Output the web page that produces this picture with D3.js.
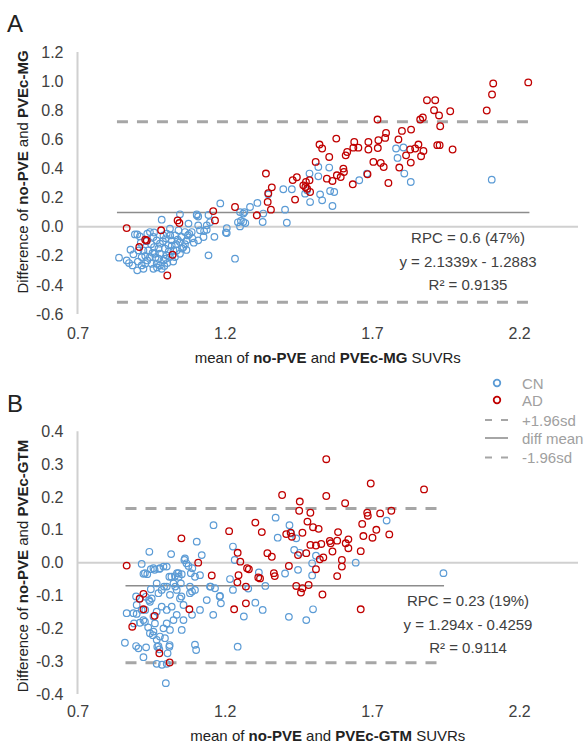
<!DOCTYPE html>
<html>
<head>
<meta charset="utf-8">
<script src="https://cdnjs.cloudflare.com/ajax/libs/d3/7.8.5/d3.min.js"></script>
<style>
  body { margin: 0; background: #fff; }
  svg { font-family: "Liberation Sans", Arial, sans-serif; }
</style>
</head>
<body>
<svg id="chart" width="584" height="746"></svg>
<script>
// ---- data ----
var xTicks = [0.7, 1.2, 1.7, 2.2];
var yTicksA = [-0.6, -0.4, -0.2, 0.0, 0.2, 0.4, 0.6, 0.8, 1.0, 1.2];
var yTicksB = [-0.4, -0.3, -0.2, -0.1, 0.0, 0.1, 0.2, 0.3, 0.4];

// Panel A: no-PVE vs PVEc-MG  [mean, difference]
var cnA = [
  [0.841,-0.213],[0.867,-0.232],[0.88,-0.158],[0.887,-0.266],[0.903,-0.30],[0.895,-0.053],[0.903,-0.053],
  [0.912,-0.067],[0.907,-0.163],[0.918,-0.209],[0.924,-0.163],[0.937,-0.048],[0.946,-0.037],[0.958,-0.071],
  [0.96,-0.14],[0.969,-0.094],[0.98,-0.117],[0.986,0.048],[0.992,-0.06],[1.003,-0.048],[1.014,-0.014],
  [1.02,-0.094],[1.026,-0.163],[1.031,-0.06],[1.031,-0.209],[1.043,-0.025],[1.048,-0.106],[1.054,-0.071],
  [1.06,-0.14],[1.065,-0.037],[1.071,-0.094],[1.048,0.085],[1.077,0.021],[1.088,-0.037],[1.105,0.078],
  [1.11,0.009],[1.11,-0.094],[1.116,-0.025],[1.128,-0.071],[1.139,-0.021],[1.139,0.009],[1.145,-0.197],
  [0.94,-0.163],[0.946,-0.209],[0.952,-0.255],[0.958,-0.289],[0.969,-0.255],[0.975,-0.22],[0.98,-0.186],
  [0.992,-0.232],[1.003,-0.197],[0.93,-0.255],[0.937,-0.232],[0.918,-0.266],[0.924,-0.289],[0.963,-0.186],
  [0.997,-0.151],[1.009,-0.128],[1.014,-0.209],[1.037,-0.163],[1.048,-0.186],[0.98,-0.266],[0.986,-0.289],
  [0.95,-0.12],[0.935,-0.1],[0.955,-0.18],[0.975,-0.15],[0.99,-0.1],[1.0,-0.22],[1.01,-0.17],[1.02,-0.13],
  [1.035,-0.12],[1.04,-0.09],[1.055,-0.15],[1.065,-0.12],[1.07,-0.16],[1.075,-0.06],[0.965,-0.21],
  [0.97,-0.28],[0.93,-0.2],[0.915,-0.11],[0.905,-0.24],[0.89,-0.19],[0.875,-0.25],[0.995,-0.27],
  [1.005,-0.25],[1.025,-0.24],[0.96,-0.04],[1.0,-0.08],[1.015,-0.06],[1.095,-0.11],[1.09,-0.08],[1.08,-0.05],
  [1.105,0.085],[1.11,0.07],[1.145,0.08],[1.15,0.03],[1.165,-0.07],[1.204,-0.04],[1.207,-0.01],[1.185,0.16],
  [1.235,-0.22],[1.245,0.03],[1.255,0.04],[1.263,0.09],[1.13,-0.03],[1.207,-0.044],[1.252,0.002],[1.252,0.1],
  [1.267,0.1],[1.263,0.032],[1.27,0.025],[1.286,0.135],[1.311,0.163],[1.331,0.09],[1.329,0.032],[1.348,0.222],
  [1.399,0.257],[1.405,0.117],[1.411,0.027],[1.428,0.257],[1.473,0.227],[1.48,0.25],[1.488,0.365],[1.49,0.169],
  [1.518,0.41],[1.518,0.346],[1.524,0.222],[1.531,0.181],[1.555,0.406],[1.558,0.245],[1.572,0.238],
  [1.566,0.142],[1.657,0.319],[1.683,0.365],[1.782,0.537],[1.807,0.544],[1.787,0.472],[1.81,0.365],
  [1.832,0.307],[2.107,0.323]
];
var adA = [
  [0.867,-0.01],[0.91,-0.14],[0.93,-0.09],[0.935,-0.095],[0.984,-0.025],[1.005,-0.335],[1.023,-0.193],
  [1.04,0.043],[1.046,0.025],[1.161,0.107],[1.167,0.043],[1.235,0.135],[1.309,0.078],[1.34,0.365],
  [1.348,0.23],[1.346,0.17],[1.36,0.27],[1.357,0.117],[1.431,0.32],[1.445,0.34],[1.439,0.186],
  [1.467,0.284],[1.476,0.307],[1.474,0.273],[1.48,0.26],[1.488,0.319],[1.49,0.238],[1.509,0.445],
  [1.522,0.564],[1.531,0.537],[1.555,0.479],[1.547,0.33],[1.566,0.314],[1.579,0.605],[1.581,0.353],
  [1.594,0.341],[1.603,0.399],[1.605,0.376],[1.611,0.49],[1.616,0.513],[1.635,0.291],[1.64,0.582],
  [1.637,0.543],[1.654,0.543],[1.688,0.582],[1.688,0.53],[1.685,0.36],[1.705,0.445],[1.719,0.736],
  [1.722,0.594],[1.748,0.644],[1.745,0.61],[1.72,0.54],[1.73,0.438],[1.74,0.41],[1.756,0.3],[1.79,0.599],
  [1.802,0.658],[1.833,0.667],[1.793,0.406],[1.816,0.49],[1.83,0.53],[1.832,0.44],[1.847,0.537],
  [1.858,0.564],[1.867,0.484],[1.875,0.52],[1.864,0.736],[1.873,0.75],[1.887,0.869],[1.915,0.869],
  [1.911,0.8],[1.928,0.764],[1.932,0.69],[1.922,0.56],[1.93,0.56],[1.966,0.793],[1.974,0.53],
  [2.09,0.798],[2.108,0.908],[2.112,0.984],[2.231,0.991]
];

// Panel B: no-PVE vs PVEc-GTM
var cnB = [
  [0.944,0.033],[1.018,0.026],[1.105,0.064],[1.122,0.023],[0.918,-0.004],[0.929,-0.032],[0.937,-0.035],
  [0.958,-0.017],[0.98,-0.017],[0.992,-0.012],[1.003,-0.012],[1.012,-0.043],[1.026,-0.063],[1.031,-0.041],
  [1.043,-0.032],[1.054,-0.035],[1.065,0.013],[1.077,-0.01],[1.085,-0.032],[1.09,-0.017],[1.099,-0.043],
  [1.116,-0.038],[1.15,-0.073],[1.167,-0.078],[1.184,-0.101],[1.187,-0.124],[1.161,-0.159],[1.139,-0.114],
  [1.116,-0.144],[1.099,-0.083],[1.082,-0.093],[1.06,-0.129],[1.048,-0.109],[1.037,-0.083],[1.014,-0.098],
  [1.003,-0.073],[0.986,-0.083],[0.975,-0.093],[0.969,-0.063],[0.952,-0.109],[0.946,-0.119],[0.932,-0.104],
  [0.912,-0.109],[0.901,-0.129],[0.89,-0.154],[0.867,-0.154],[0.861,-0.244],[0.899,-0.254],[0.907,-0.261],
  [0.924,-0.288],[0.933,-0.258],[0.912,-0.183],[0.929,-0.18],[0.94,-0.197],[0.946,-0.215],[0.958,-0.21],
  [0.969,-0.235],[0.98,-0.225],[0.992,-0.2],[1.003,-0.185],[1.014,-0.205],[1.026,-0.175],[1.037,-0.159],
  [1.02,-0.134],[1.003,-0.144],[0.986,-0.134],[0.969,-0.149],[0.958,-0.164],[0.997,-0.23],[0.971,-0.256],
  [0.978,-0.264],[0.969,-0.308],[1.012,-0.256],[1.003,-0.308],[1.0,-0.367],[1.099,-0.25],[1.103,-0.266],
  [1.06,-0.175],[1.054,-0.205],[0.901,-0.156],[0.924,-0.175],[0.918,-0.144],[0.963,-0.185],
  [0.892,-0.185],[0.899,-0.103],[0.924,-0.034],[0.93,-0.144],[0.943,-0.114],[0.949,-0.02],[0.949,-0.081],
  [0.956,-0.221],[0.962,-0.022],[0.975,-0.254],[0.978,-0.019],[0.987,-0.311],[0.994,-0.073],[1.006,-0.276],
  [1.013,-0.251],[1.019,-0.043],[1.032,-0.073],[1.038,-0.032],[1.044,-0.043],[1.051,-0.063],[1.053,-0.103],
  [1.063,0.008],[1.07,-0.002],[1.082,-0.073],[1.089,-0.088],[1.089,-0.159],
  [1.152,-0.073],[1.162,0.114],[1.183,-0.103],[1.218,-0.05],[1.228,0.049],[1.228,-0.083],[1.234,0.008],
  [1.244,-0.256],[1.265,-0.164],[1.28,-0.079],[1.304,-0.122],[1.316,-0.03],[1.329,-0.144],[1.338,-0.071],
  [1.373,0.137],[1.38,0.076],[1.405,-0.033],[1.418,-0.165],[1.42,0.114],[1.426,0.089],[1.436,0.039],
  [1.443,0.074],[1.449,-0.022],[1.455,0.03],[1.477,-0.175],[1.497,-0.002],[1.5,-0.142],[1.497,-0.039],
  [1.51,0.021],[1.645,0.0],[1.75,0.128],[1.943,-0.032]
];
var adB = [
  [0.867,-0.009],[0.886,-0.195],[0.911,-0.11],[0.924,-0.095],[0.924,-0.142],[0.962,-0.162],[0.978,-0.276],
  [1.013,-0.304],[1.053,0.074],[1.08,-0.142],[1.11,0.0],[1.156,-0.039],[1.215,0.096],[1.232,-0.142],
  [1.244,0.03],[1.243,-0.06],[1.247,-0.038],[1.253,0.003],[1.272,-0.073],[1.272,-0.124],[1.276,-0.017],
  [1.282,-0.02],[1.304,0.122],[1.314,-0.045],[1.32,-0.048],[1.326,0.093],[1.345,0.029],[1.36,0.018],
  [1.367,-0.032],[1.37,-0.041],[1.395,0.206],[1.409,0.087],[1.418,-0.01],[1.424,0.091],[1.428,0.079],
  [1.443,-0.071],[1.449,0.023],[1.453,0.158],[1.455,0.186],[1.459,-0.091],[1.464,-0.078],[1.464,0.091],
  [1.477,0.029],[1.481,0.125],[1.485,-0.068],[1.491,0.152],[1.491,0.054],[1.5,0.108],[1.51,0.052],
  [1.51,-0.02],[1.519,0.103],[1.523,0.01],[1.528,0.057],[1.532,-0.097],[1.535,0.016],[1.545,0.315],
  [1.545,0.203],[1.557,0.066],[1.56,0.059],[1.566,0.034],[1.582,-0.041],[1.585,0.093],[1.582,0.067],
  [1.598,0.008],[1.598,-0.012],[1.609,0.181],[1.611,0.059],[1.62,0.071],[1.62,0.044],[1.662,0.035],
  [1.662,-0.142],[1.667,0.118],[1.671,0.081],[1.684,0.152],[1.686,0.143],[1.696,0.241],[1.702,0.076],
  [1.715,0.1],[1.728,0.15],[1.759,0.086],[1.766,0.158],[1.877,0.223]
];

// limits of agreement: mean difference and +/-1.96sd, with the x span they are drawn over
var limitsA = { upper: 0.72, mean: 0.098, lower: -0.52 };
var limitsB = { upper: 0.165, mean: -0.07, lower: -0.305 };
var spanA = [0.834, 2.235];
var spanB = [0.863, 1.945];

var statsA = ["RPC = 0.6 (47%)", "y = 2.1339x - 1.2883", "R\u00b2 = 0.9135"];
var statsB = ["RPC = 0.23 (19%)", "y = 1.294x - 0.4259", "R\u00b2 = 0.9114"];

var legendItems = [
  { label: "CN", type: "dot", color: "#5b9bd5" },
  { label: "AD", type: "dot", color: "#c00000" },
  { label: "+1.96sd", type: "dash" },
  { label: "diff mean", type: "solid" },
  { label: "-1.96sd", type: "dash" }
];

var blue = "#5b9bd5", red = "#c00000";
var svg = d3.select("#chart");

var x = d3.scaleLinear().domain([0.7, 2.4]).range([77.5, 578]);

function panel(opt) {
  var y = d3.scaleLinear().domain(opt.yDomain).range(opt.yRange);
  var g = svg.append("g");

  // y axis line
  g.append("line")
    .attr("x1", x(0.7)).attr("x2", x(0.7))
    .attr("y1", opt.yRange[0]).attr("y2", opt.yRange[1])
    .attr("stroke", "#d0d0d0").attr("stroke-width", 2);

  // zero line
  g.append("line")
    .attr("x1", x(0.7)).attr("x2", x(2.4))
    .attr("y1", y(0)).attr("y2", y(0))
    .attr("stroke", "#d0d0d0").attr("stroke-width", 2);

  // limits of agreement
  [["upper", true], ["lower", true], ["mean", false]].forEach(function(l) {
    g.append("line")
      .attr("x1", x(opt.span[0])).attr("x2", x(opt.span[1]))
      .attr("y1", y(opt.limits[l[0]])).attr("y2", y(opt.limits[l[0]]))
      .attr("stroke", l[1] ? "#a6a6a6" : "#8c8c8c")
      .attr("stroke-width", l[1] ? 3 : 1.5)
      .attr("stroke-dasharray", l[1] ? "11,9" : null);
  });

  // axes (labels only)
  var ax = g.append("g")
    .attr("transform", "translate(0," + opt.yRange[0] + ")")
    .call(d3.axisBottom(x).tickValues(xTicks).tickSize(0).tickPadding(opt.xPad).tickFormat(d3.format(".1f")));
  var ay = g.append("g")
    .attr("transform", "translate(" + x(0.7) + ",0)")
    .call(d3.axisLeft(y).tickValues(opt.yTicks).tickSize(0).tickPadding(14).tickFormat(d3.format(".1f")));
  [ax, ay].forEach(function(a) {
    a.select(".domain").remove();
    a.selectAll("text").attr("font-size", 16).attr("fill", "#404040")
      .attr("font-family", "Liberation Sans, Arial, sans-serif");
  });
  ay.selectAll("text").text(function(d) { return d3.format(".1f")(d).replace("\u2212", "-"); });

  // points
  g.selectAll(".cn").data(opt.cn).enter().append("circle")
    .attr("cx", function(d) { return x(d[0]); })
    .attr("cy", function(d) { return y(d[1]); })
    .attr("r", 3.3).attr("fill", "none").attr("stroke", blue).attr("stroke-width", 1.2);
  g.selectAll(".ad").data(opt.ad).enter().append("circle")
    .attr("cx", function(d) { return x(d[0]); })
    .attr("cy", function(d) { return y(d[1]); })
    .attr("r", 3.3).attr("fill", "none").attr("stroke", red).attr("stroke-width", 1.3);

  // stats text
  g.selectAll(".stat").data(opt.stats).enter().append("text")
    .attr("x", 468).attr("y", function(d, i) { return opt.statY + i * 23.5; })
    .attr("text-anchor", "middle").attr("font-size", 15).attr("fill", "#404040")
    .text(function(d) { return d; });

  // panel letter
  g.append("text").attr("x", 7).attr("y", opt.letterY)
    .attr("font-size", 24).attr("fill", "#222").text(opt.letter);

  // y title
  var yt = g.append("text")
    .attr("transform", "translate(28," + opt.yTitleY + ") rotate(-90)")
    .attr("text-anchor", "middle").attr("font-size", 15).attr("fill", "#222");
  yt.append("tspan").text("Difference of ");
  yt.append("tspan").attr("font-weight", "bold").text("no-PVE");
  yt.append("tspan").text(" and ");
  yt.append("tspan").attr("font-weight", "bold").text(opt.method);

  // x title
  var xt = g.append("text")
    .attr("x", (x(0.7) + x(2.4)) / 2).attr("y", opt.xTitleY)
    .attr("text-anchor", "middle").attr("font-size", 15).attr("fill", "#222");
  xt.append("tspan").text("mean of ");
  xt.append("tspan").attr("font-weight", "bold").text("no-PVE");
  xt.append("tspan").text(" and ");
  xt.append("tspan").attr("font-weight", "bold").text(opt.method);
  xt.append("tspan").text(" SUVRs");
}

panel({
  yDomain: [-0.6, 1.2], yRange: [314, 52], yTicks: yTicksA, xPad: 13.5,
  cn: cnA, ad: adA, limits: limitsA, span: spanA, stats: statsA, statY: 243,
  letter: "A", letterY: 32, method: "PVEc-MG", yTitleY: 172, xTitleY: 363
});
panel({
  yDomain: [-0.4, 0.4], yRange: [694, 431.3], yTicks: yTicksB, xPad: 12,
  cn: cnB, ad: adB, limits: limitsB, span: spanB, stats: statsB, statY: 606,
  letter: "B", letterY: 412, method: "PVEc-GTM", yTitleY: 566, xTitleY: 741
});

// legend
var lg = svg.append("g").attr("transform", "translate(485,383)");
var rows = lg.selectAll("g").data(legendItems).enter().append("g")
  .attr("transform", function(d, i) { return "translate(0," + [0, 17, 37, 55, 74.5][i] + ")"; });
rows.filter(function(d) { return d.type === "dot"; }).append("circle")
  .attr("cx", 12).attr("cy", 0).attr("r", 3.3).attr("fill", "none")
  .attr("stroke", function(d) { return d.color; }).attr("stroke-width", 1.8);
rows.filter(function(d) { return d.type !== "dot"; }).append("line")
  .attr("x1", 0).attr("x2", 23).attr("y1", 0).attr("y2", 0)
  .attr("stroke", "#a6a6a6").attr("stroke-width", 2)
  .attr("stroke-dasharray", function(d) { return d.type === "dash" ? "7,9" : null; });
rows.append("text").attr("x", 37).attr("y", 5.5)
  .attr("font-size", 15).attr("fill", "#a0a0a0")
  .text(function(d) { return d.label; });
</script>
</body>
</html>
